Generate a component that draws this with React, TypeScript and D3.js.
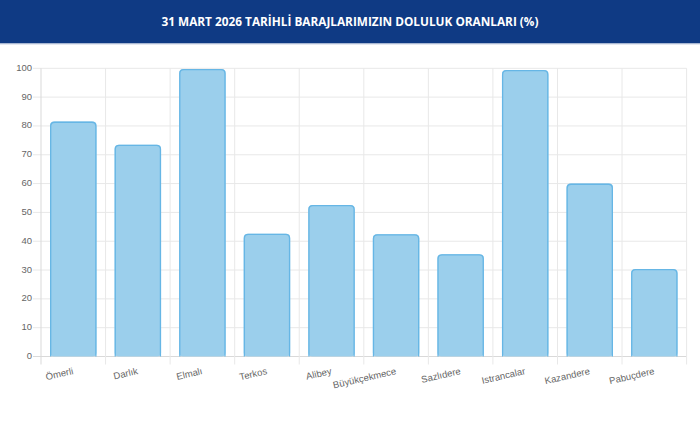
import React from "react";
import * as d3 from "d3";

const title = "31 MART 2026 TARİHLİ BARAJLARIMIZIN DOLULUK ORANLARI (%)";
const categories = ["Ömerli", "Darlık", "Elmalı", "Terkos", "Alibey", "Büyükçekmece", "Sazlıdere", "Istrancalar", "Kazandere", "Pabuçdere"];
const values = [81.5, 73.5, 99.8, 42.6, 52.6, 42.4, 35.5, 99.4, 60.0, 30.4];
const yTicks = [0, 10, 20, 30, 40, 50, 60, 70, 80, 90, 100];

const W = 700;
const H = 430;
const plot = { left: 41, right: 686.6, top: 68.3, bottom: 356.5 };

export default function App() {
  const x = d3.scaleBand<string>().domain(categories).range([plot.left, plot.right]).padding(0);
  const y = d3.scaleLinear().domain([0, 100]).range([plot.bottom, plot.top]);
  const bw = x.bandwidth() * 0.72;
  const r = 4;
  const sw = 1.3;
  const edges = categories.map((c) => x(c)!).concat([plot.right]);
  const font = "'Liberation Sans', Arial, sans-serif";

  const barPath = (cx: number, v: number) => {
    const x0 = cx - bw / 2 + sw / 2;
    const x1 = cx + bw / 2 - sw / 2;
    const yt = y(v) + sw / 2;
    const yb = y(0);
    return `M${x0},${yb} L${x0},${yt + r} Q${x0},${yt} ${x0 + r},${yt} L${x1 - r},${yt} Q${x1},${yt} ${x1},${yt + r} L${x1},${yb}`;
  };

  return (
    <div style={{ position: "absolute", left: 0, top: 0 }}>
      <svg width={W} height={H} style={{ display: "block", background: "#fff" }}>
        <rect x={0} y={0} width={W} height={43.5} fill="#0f3a84" />
        <rect x={0} y={43.5} width={W} height={1} fill="#c9d2e3" />
        <text
          x={W / 2}
          y={22.5}
          textAnchor="middle"
          dominantBaseline="middle"
          fill="#ffffff"
          style={{ fontFamily: "'Open Sans', sans-serif", fontWeight: 700, fontSize: 11.8 }}
        >
          {title}
        </text>

        {yTicks.map((t) => (
          <line key={"h" + t} x1={plot.left - 8} x2={plot.right} y1={y(t)} y2={y(t)} stroke={t === 0 ? "#d9d9d9" : "#e8e8e8"} strokeWidth={1} />
        ))}
        {edges.map((e, i) => (
          <line key={"v" + i} x1={e} x2={e} y1={plot.top} y2={plot.bottom + 8} stroke={i === 0 ? "#d9d9d9" : "#e8e8e8"} strokeWidth={1} />
        ))}

        {yTicks.map((t) => (
          <text key={"yl" + t} x={plot.left - 9} y={y(t)} textAnchor="end" dominantBaseline="middle" fill="#666" style={{ fontFamily: font, fontSize: 9.5 }}>
            {t}
          </text>
        ))}

        {categories.map((c, i) => {
          const cx = x(c)! + x.bandwidth() / 2;
          return (
            <g key={"b" + c}>
              <rect x={cx - bw / 2} y={y(values[i])} width={bw} height={y(0) - y(values[i])} rx={r} fill="#9bcfec" />
              <path d={barPath(cx, values[i])} fill="none" stroke="#66b6e5" strokeWidth={sw} />
            </g>
          );
        })}

        {categories.map((c) => {
          const cx = x(c)! + x.bandwidth() / 2;
          const ly = plot.bottom + 15;
          return (
            <text key={"xl" + c} x={cx} y={ly} textAnchor="end" dominantBaseline="middle" fill="#666" transform={`rotate(-13, ${cx}, ${ly})`} style={{ fontFamily: font, fontSize: 9.5 }}>
              {c}
            </text>
          );
        })}
      </svg>
    </div>
  );
}
